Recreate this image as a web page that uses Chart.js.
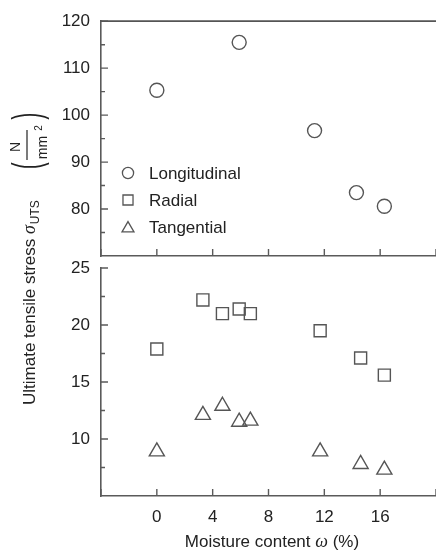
<!DOCTYPE html>
<html>
<head>
<meta charset="utf-8">
<script src="https://cdn.jsdelivr.net/npm/chart.js@4.4.1/dist/chart.umd.min.js"></script>
<style>
  html, body { margin: 0; padding: 0; background: #fff; }
  #wrap { position: relative; width: 436px; height: 554px; }
  #wrap canvas { position: absolute; left: 0; top: 0; }
</style>
</head>
<body>
<div id="wrap">
  <canvas id="bottomChart" width="436" height="554"></canvas>
  <canvas id="topChart" width="436" height="554"></canvas>
</div>
<script>
  // ===== Data =====
  const LONG_X = [0, 5.9, 11.3, 14.3, 16.3];
  const LONG_Y = [105.3, 115.5, 96.7, 83.5, 80.6];
  const RT_X   = [0, 3.3, 4.7, 5.9, 6.7, 11.7, 14.6, 16.3];
  const RAD_Y  = [17.9, 22.2, 21.0, 21.4, 21.0, 19.5, 17.1, 15.6];
  const TAN_Y  = [8.9, 12.1, 12.9, 11.5, 11.6, 8.9, 7.8, 7.3];

  const X_LABELS     = [0, 4, 8, 12, 16];
  const X_MARKS      = [-4, 0, 4, 8, 12, 16, 20];
  const TOP_LABELS   = [80, 90, 100, 110, 120];
  const TOP_MINOR    = [75, 85, 95, 105, 115];
  const BOT_LABELS   = [10, 15, 20, 25];
  const BOT_MINOR    = [7.5, 12.5, 17.5, 22.5];
  const SERIES_NAMES = ['Longitudinal', 'Radial', 'Tangential'];

  // ===== Styles =====
  const SANS  = '"Liberation Sans", Arial, sans-serif';
  const SERIF = '"Liberation Serif", "Times New Roman", serif';
  const AXIS  = '#5a5a5a';
  const MARK  = '#555';
  const TXT   = '#222';
  const NONE  = 'rgba(0,0,0,0)';

  Chart.defaults.font.family = SANS;
  Chart.defaults.font.size = 17;
  Chart.defaults.color = TXT;

  const pts = (xs, ys) => xs.map((x, i) => ({ x, y: ys[i] }));
  const border = { display: true, color: AXIS, width: 1.6 };
  const noGrid = { display: false, drawTicks: false };

  // inward tick marks, drawn on the library's scales
  const inwardTicks = {
    id: 'inwardTicks',
    afterDraw(chart, args, opts) {
      const { ctx, chartArea: a, scales: { x, y } } = chart;
      ctx.save();
      ctx.strokeStyle = AXIS;
      ctx.lineWidth = 1.4;
      ctx.beginPath();
      X_MARKS.forEach(v => {
        const px = x.getPixelForValue(v);
        ctx.moveTo(px, a.bottom); ctx.lineTo(px, a.bottom - 7);
      });
      opts.major.forEach(v => {
        const py = y.getPixelForValue(v);
        ctx.moveTo(a.left, py); ctx.lineTo(a.left + 7, py);
      });
      opts.minor.forEach(v => {
        const py = y.getPixelForValue(v);
        ctx.moveTo(a.left, py); ctx.lineTo(a.left + 4, py);
      });
      ctx.stroke();
      if (opts.topLine) {
        ctx.strokeStyle = '#555';
        ctx.lineWidth = 1.8;
        ctx.beginPath();
        ctx.moveTo(a.left - 0.8, a.top); ctx.lineTo(a.right, a.top);
        ctx.stroke();
      }
      ctx.restore();
    }
  };

  // legend inside the upper panel
  const innerLegend = {
    id: 'innerLegend',
    afterDraw(chart) {
      const ctx = chart.ctx;
      const styles = [
        { pointStyle: 'circle',   radius: 5.6, dy: 0 },
        { pointStyle: 'rect',     radius: 7.1, dy: 0 },
        { pointStyle: 'triangle', radius: 6.9, dy: 1.5 }
      ];
      ctx.save();
      SERIES_NAMES.forEach((name, i) => {
        const cy = 173 + i * 27;
        ctx.fillStyle = NONE;
        ctx.strokeStyle = MARK;
        ctx.lineWidth = 1.3;
        Chart.helpers.drawPoint(ctx, { pointStyle: styles[i].pointStyle, radius: styles[i].radius, borderWidth: 1.3, rotation: 0 }, 128, cy + styles[i].dy);
        ctx.fillStyle = TXT;
        ctx.font = '17px ' + SANS;
        ctx.textAlign = 'left';
        ctx.textBaseline = 'middle';
        ctx.fillText(name, 149, cy + 1);
      });
      ctx.restore();
    }
  };

  // axis titles with italic symbols, subscript and fraction
  const titles = {
    id: 'titles',
    afterDraw(chart) {
      const ctx = chart.ctx;
      ctx.save();
      ctx.fillStyle = TXT;
      ctx.textAlign = 'left';
      ctx.textBaseline = 'alphabetic';

      const parts = [['Moisture content ', '17px ' + SANS], ['ω', 'italic 18px ' + SERIF], [' (%)', '17px ' + SANS]];
      let total = 0;
      parts.forEach(p => { ctx.font = p[1]; total += ctx.measureText(p[0]).width; });
      let x = 272 - total / 2;
      parts.forEach(p => { ctx.font = p[1]; ctx.fillText(p[0], x, 547); x += ctx.measureText(p[0]).width; });

      ctx.translate(35, 405);
      ctx.rotate(-Math.PI / 2);
      ctx.font = '17px ' + SANS;
      const main = 'Ultimate tensile stress ';
      ctx.fillText(main, 0, 0);
      let u = ctx.measureText(main).width;
      ctx.font = 'italic 18px ' + SERIF;
      ctx.fillText('σ', u, 0);
      u += ctx.measureText('σ').width + 1;
      ctx.font = '12px ' + SANS;
      ctx.fillText('UTS', u, 4);

      ctx.font = '20px ' + SANS;
      ctx.save();
      ctx.scale(1, 2);
      ctx.fillText('(', 236, 3);
      ctx.fillText(')', 285.5, 3);
      ctx.restore();

      ctx.textAlign = 'center';
      ctx.font = '14px ' + SANS;
      ctx.fillText('N', 258, -15);
      ctx.fillText('mm', 257.5, 12);
      ctx.font = '10px ' + SANS;
      ctx.fillText('2', 277, 7);
      ctx.strokeStyle = TXT;
      ctx.lineWidth = 1.2;
      ctx.beginPath();
      ctx.moveTo(245, -8); ctx.lineTo(275, -8);
      ctx.stroke();
      ctx.restore();
    }
  };

  const baseOpts = {
    responsive: false,
    animation: false,
    clip: false,
    events: []
  };

  // ===== Upper panel =====
  new Chart(document.getElementById('topChart'), {
    type: 'scatter',
    data: {
      datasets: [{
        label: SERIES_NAMES[0],
        data: pts(LONG_X, LONG_Y),
        pointStyle: 'circle',
        pointRadius: 7,
        pointBorderWidth: 1.4,
        pointBorderColor: MARK,
        pointBackgroundColor: NONE
      }]
    },
    options: {
      ...baseOpts,
      layout: { autoPadding: false, padding: { left: 0, right: 0, top: 15, bottom: 288 } },
      plugins: {
        legend: { display: false },
        tooltip: { enabled: false },
        inwardTicks: { major: TOP_LABELS, minor: TOP_MINOR, topLine: true }
      },
      scales: {
        x: {
          type: 'linear', min: -4, max: 20,
          grid: noGrid, border,
          ticks: { display: false },
          afterFit: s => { s.height = 10; }
        },
        y: {
          min: 70, max: 120,
          grid: noGrid, border,
          ticks: { padding: 11 },
          afterBuildTicks: s => { s.ticks = TOP_LABELS.map(v => ({ value: v })); },
          afterFit: s => { s.width = 101; }
        }
      }
    },
    plugins: [inwardTicks, innerLegend]
  });

  // ===== Lower panel =====
  new Chart(document.getElementById('bottomChart'), {
    type: 'scatter',
    data: {
      datasets: [{
        label: SERIES_NAMES[1],
        data: pts(RT_X, RAD_Y),
        pointStyle: 'rect',
        pointRadius: 8.5,
        pointBorderWidth: 1.4,
        pointBorderColor: MARK,
        pointBackgroundColor: NONE
      }, {
        label: SERIES_NAMES[2],
        data: pts(RT_X, TAN_Y),
        pointStyle: 'triangle',
        pointRadius: 8.7,
        pointBorderWidth: 1.4,
        pointBorderColor: MARK,
        pointBackgroundColor: NONE
      }]
    },
    options: {
      ...baseOpts,
      layout: { autoPadding: false, padding: { left: 0, right: 0, top: 268, bottom: 0 } },
      plugins: {
        legend: { display: false },
        tooltip: { enabled: false },
        inwardTicks: { major: BOT_LABELS, minor: BOT_MINOR, topLine: false }
      },
      scales: {
        x: {
          type: 'linear', min: -4, max: 20,
          grid: noGrid, border,
          ticks: { padding: 11 },
          afterBuildTicks: s => { s.ticks = X_LABELS.map(v => ({ value: v })); },
          afterFit: s => { s.height = 58; }
        },
        y: {
          min: 5, max: 25,
          grid: noGrid, border,
          ticks: { padding: 11 },
          afterBuildTicks: s => { s.ticks = BOT_LABELS.map(v => ({ value: v })); },
          afterFit: s => { s.width = 101; }
        }
      }
    },
    plugins: [inwardTicks, titles]
  });
</script>
</body>
</html>
